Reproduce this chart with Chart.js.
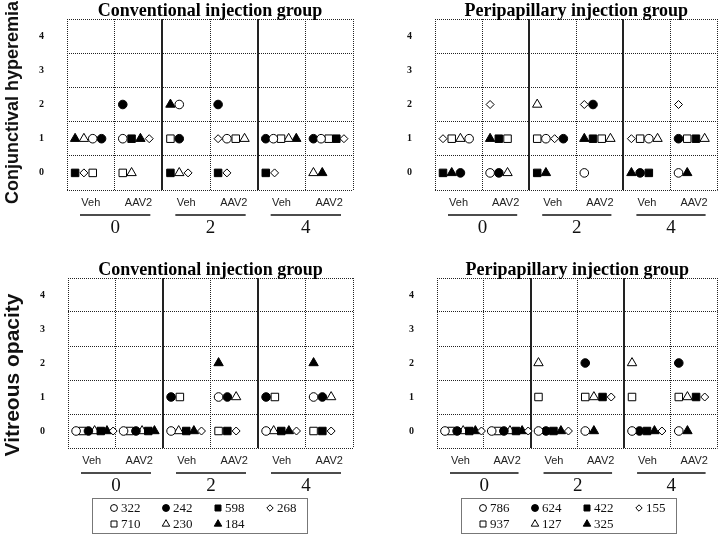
<!DOCTYPE html>
<html>
<head>
<meta charset="utf-8">
<script src="https://cdn.jsdelivr.net/npm/chart.js@4.4.0/dist/chart.umd.min.js"></script>
<style>
  body { margin: 0; background: #fff; }
  #wrap { position: relative; width: 724px; height: 535px; }
  canvas { position: absolute; }
</style>
</head>
<body>
<div id="wrap">
  <canvas id="hypConv" width="362" height="260" style="left:0;top:0"></canvas>
  <canvas id="hypPeri" width="362" height="260" style="left:362px;top:0"></canvas>
  <canvas id="opaConv" width="362" height="275" style="left:0;top:260px"></canvas>
  <canvas id="opaPeri" width="362" height="275" style="left:362px;top:260px"></canvas>
</div>
<script>
// categories
const treatments = ["Veh", "AAV2", "Veh", "AAV2", "Veh", "AAV2"];
const weeks = ["0", "2", "4"];
const scores = [0, 1, 2, 3, 4];

// animals (legend order) and their markers
const conventionalIds = ["322", "242", "598", "268", "710", "230", "184"];
const peripapillaryIds = ["786", "624", "422", "155", "937", "127", "325"];
const markerShapes = ["circle", "circle", "rect", "rectRot", "rect", "triangle", "triangle"];
const markerFilled = [false, true, true, false, false, false, true];

// one entry per column (Veh 0, AAV2 0, Veh 2, AAV2 2, Veh 4, AAV2 4):
// animals scored 0, 1, 2 in that column, in the order they are shown
const hyperemiaConventional = [
    [["598", "268", "710"], ["184", "230", "322", "242"], []],
    [["710", "230"], ["322", "598", "184", "268"], ["242"]],
    [["598", "230", "268"], ["710", "242"], ["184", "322"]],
    [["598", "268"], ["268", "322", "710", "230"], ["242"]],
    [["598", "268"], ["242", "322", "710", "230", "184"], []],
    [["230", "184"], ["242", "322", "710", "598", "268"], []]
];
const hyperemiaPeripapillary = [
    [["422", "325", "624"], ["155", "937", "127", "786"], []],
    [["786", "624", "127"], ["325", "422", "937"], ["155"]],
    [["422", "325"], ["937", "786", "155", "624"], ["127"]],
    [["786"], ["325", "422", "937", "127"], ["155", "624"]],
    [["325", "624", "422"], ["155", "937", "786", "127"], []],
    [["786", "325"], ["624", "937", "422", "127"], ["155"]]
];
const opacityConventional = [
    [["322", "710", "242", "230", "598", "184", "268"], [], []],
    [["322", "710", "242", "230", "598", "184"], [], []],
    [["322", "230", "598", "184", "268"], ["242", "710"], []],
    [["710", "598", "268"], ["322", "242", "230"], ["184"]],
    [["322", "230", "598", "184", "268"], ["242", "710"], []],
    [["710", "598", "268"], ["322", "242", "230"], ["184"]]
];
const opacityPeripapillary = [
    [["786", "937", "624", "127", "422", "325", "155"], [], []],
    [["786", "937", "624", "127", "422", "325", "155"], [], []],
    [["786", "624", "422", "325", "155"], ["937"], ["127"]],
    [["786", "325"], ["937", "127", "422", "155"], ["624"]],
    [["786", "624", "422", "325", "155"], ["937"], ["127"]],
    [["786", "325"], ["937", "127", "422", "155"], ["624"]]
];

const radiusByShape = { circle: 4.3, rect: 5.3, rectRot: 4, triangle: 5.4 };

// where the i-th of n markers sits inside its column
function cellOffset(i, n) {
    const step = n <= 4 ? 0.185 : n === 5 ? 0.16 : 0.13;
    return 0.17 + i * step;
}

function buildDatasets(ids, cells) {
    return ids.map((id, k) => {
        const pts = [];
        cells.forEach((col, c) => {
            col.forEach((list, s) => {
                list.forEach((a, i) => {
                    if (a === id) pts.push({ x: c + cellOffset(i, list.length), y: scores[s] });
                });
            });
        });
        return {
            label: id,
            data: pts,
            pointStyle: markerShapes[k],
            pointRadius: radiusByShape[markerShapes[k]],
            pointBackgroundColor: markerFilled[k] ? "#000" : "#fff",
            pointBorderColor: "#000",
            pointBorderWidth: 1
        };
    });
}

// week labels, underlines, row title and legend box
const panelDecor = {
    id: "panelDecor",
    afterDraw(chart, args, o) {
        const { ctx, chartArea: a } = chart;
        const xs = chart.scales.x;
        ctx.save();
        ctx.fillStyle = "#111";
        ctx.strokeStyle = "#111";
        weeks.forEach((w, g) => {
            const l = xs.getPixelForValue(2 * g) + 13;
            const r = xs.getPixelForValue(2 * g + 2) - 12;
            ctx.lineWidth = 1.5;
            ctx.beginPath();
            ctx.moveTo(l, a.bottom + 25);
            ctx.lineTo(r, a.bottom + 25);
            ctx.stroke();
            ctx.font = '19px "Liberation Serif"';
            ctx.textAlign = "center";
            ctx.textBaseline = "middle";
            ctx.fillText(w, (l + r) / 2, a.bottom + 38);
        });

        // legend
        if (o.showKey) {
            const bx = a.left + 24, by = a.bottom + 50, bw = 215, bh = 35;
            ctx.strokeStyle = "#777";
            ctx.lineWidth = 1;
            ctx.strokeRect(Math.round(bx) + 0.5, Math.round(by) + 0.5, bw, bh);
            const drawPoint = Chart.helpers && Chart.helpers.drawPoint;
            chart.data.datasets.forEach((ds, i) => {
                const mx = bx + 22 + (i % 4) * 52;
                const my = by + 10 + Math.floor(i / 4) * 16;
                ctx.fillStyle = ds.pointBackgroundColor;
                ctx.strokeStyle = "#000";
                ctx.lineWidth = 1;
                if (drawPoint) {
                    drawPoint(ctx, { pointStyle: ds.pointStyle, radius: ds.pointRadius * 0.8, borderWidth: 1, rotation: 0 }, mx, my);
                }
                ctx.fillStyle = "#111";
                ctx.font = '13px "Liberation Serif"';
                ctx.textAlign = "left";
                ctx.textBaseline = "middle";
                ctx.fillText(ds.label, mx + 7, my + 1);
            });
        }

        if (o.yTitle) {
            ctx.translate(13, (a.top + a.bottom) / 2 + o.yTitleShift);
            ctx.rotate(-Math.PI / 2);
            ctx.fillStyle = "#111";
            ctx.font = "bold " + o.yTitleSize + 'px "Liberation Sans"';
            ctx.textAlign = "center";
            ctx.textBaseline = "middle";
            ctx.fillText(o.yTitle, 0, 0);
        }
        ctx.restore();
    }
};

const columnEdges = [0, 1, 2, 3, 4, 5, 6];
const columnMids = [0.5, 1.5, 2.5, 3.5, 4.5, 5.5];
const rowValues = [-0.5, 0, 0.5, 1, 1.5, 2, 2.5, 3, 3.5, 4, 4.5];

function makePanel(id, title, ids, cells, p) {
    const isSep = ctx => ctx.tick && (ctx.tick.value === 2 || ctx.tick.value === 4);
    return new Chart(document.getElementById(id), {
        type: "scatter",
        data: { datasets: buildDatasets(ids, cells) },
        options: {
            responsive: false,
            animation: false,
            events: [],
            layout: { padding: { left: 0, top: 0, right: p.padRight, bottom: p.padBottom } },
            plugins: {
                legend: { display: false },
                tooltip: { enabled: false },
                title: {
                    display: true,
                    text: title,
                    fullSize: false,
                    color: "#000",
                    font: { family: "Liberation Serif", size: 18, weight: "bold", lineHeight: 16 / 18 },
                    padding: { top: p.titleTop, bottom: 0 }
                },
                panelDecor: { yTitle: p.yTitle, yTitleSize: p.yTitleSize, yTitleShift: p.yTitleShift, showKey: p.showKey }
            },
            scales: {
                x: {
                    type: "linear",
                    position: "bottom",
                    min: 0,
                    max: 6,
                    afterBuildTicks: s => { s.ticks = columnEdges.map(value => ({ value })); },
                    afterFit: s => { s.height = 0; s.paddingLeft = 0; s.paddingRight = 0; },
                    ticks: { display: false },
                    grid: {
                        color: "#222",
                        lineWidth: ctx => isSep(ctx) ? 2 : 1,
                        drawTicks: false
                    },
                    border: { display: false, dash: ctx => isSep(ctx) ? [] : [1, 1] }
                },
                xl: {
                    type: "linear",
                    position: "bottom",
                    min: 0,
                    max: 6,
                    afterBuildTicks: s => { s.ticks = columnMids.map(value => ({ value })); },
                    afterFit: s => { s.height = 20; s.paddingLeft = 0; s.paddingRight = 0; },
                    ticks: {
                        autoSkip: false,
                        maxRotation: 0,
                        padding: 6,
                        color: "#222",
                        font: { family: "Liberation Sans", size: 11 },
                        callback: (v, i) => treatments[i]
                    },
                    grid: { display: false, drawTicks: false },
                    border: { display: false }
                },
                y: {
                    type: "linear",
                    position: "left",
                    min: -0.5,
                    max: 4.5,
                    afterBuildTicks: s => { s.ticks = rowValues.map(value => ({ value })); },
                    afterFit: s => { s.width = p.axisWidth; s.paddingTop = 0; s.paddingBottom = 0; },
                    ticks: {
                        autoSkip: false,
                        padding: 23,
                        color: "#111",
                        font: { family: "Liberation Serif", size: 10, weight: "bold" },
                        callback: v => Number.isInteger(v) ? String(v) : ""
                    },
                    grid: {
                        color: ctx => (ctx.tick && Number.isInteger(ctx.tick.value)) ? "rgba(0,0,0,0)" : "#222",
                        drawTicks: false
                    },
                    border: { display: false, dash: [1, 1] }
                }
            }
        },
        plugins: [panelDecor]
    });
}

makePanel("hypConv", "Conventional injection group", conventionalIds, hyperemiaConventional,
    { axisWidth: 67, padRight: 9, padBottom: 50, titleTop: 3, yTitle: "Conjunctival hyperemia", yTitleSize: 18, yTitleShift: -2 });
makePanel("hypPeri", "Peripapillary injection group", peripapillaryIds, hyperemiaPeripapillary,
    { axisWidth: 73, padRight: 2, padBottom: 50, titleTop: 3 });
makePanel("opaConv", "Conventional injection group", conventionalIds, opacityConventional,
    { axisWidth: 68, padRight: 9, padBottom: 67, titleTop: 2, yTitle: "Vitreous opacity", yTitleSize: 21, yTitleShift: 12, showKey: true });
makePanel("opaPeri", "Peripapillary injection group", peripapillaryIds, opacityPeripapillary,
    { axisWidth: 75, padRight: 1, padBottom: 67, titleTop: 2, showKey: true });
</script>
</body>
</html>
